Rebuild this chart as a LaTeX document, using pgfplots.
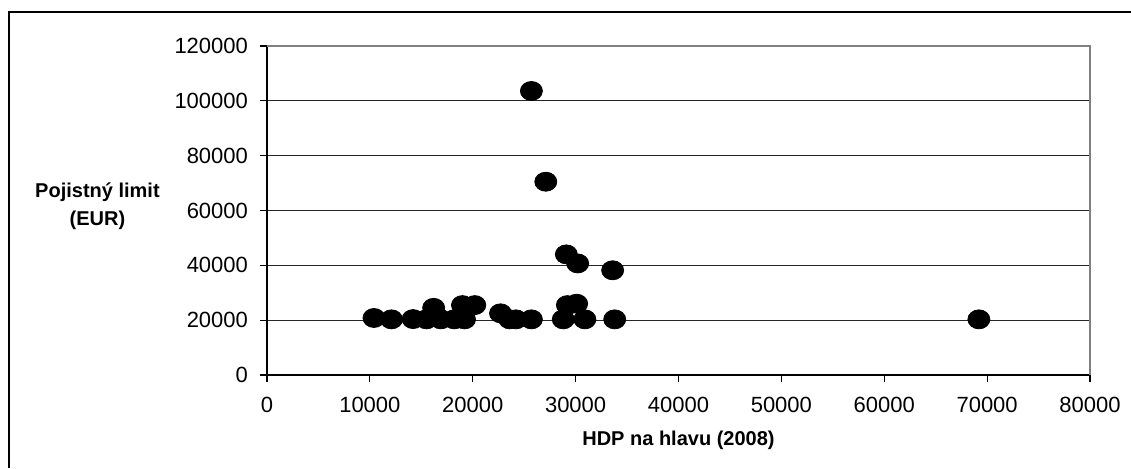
\documentclass[border=0pt]{standalone}
\usepackage{fontspec}
\setmainfont{Liberation Sans}
\usepackage{pgfplots}
\pgfplotsset{compat=1.18}

\begin{document}
\begin{tikzpicture}
% page area and the outer chart frame (top and left edges only)
\useasboundingbox (-133.5pt,-46.5pt) rectangle (432pt,187.5pt);
\draw[black, line width=0.8pt] (-129pt,-46.5pt) -- (-129pt,181.5pt) -- (432pt,181.5pt);
\begin{axis}[
    at={(0,0)}, anchor=south west,
    scale only axis,
    width=411.5pt,
    height=164.5pt,
    xmin=0, xmax=80000,
    ymin=0, ymax=120000,
    xtick={0,10000,20000,30000,40000,50000,60000,70000,80000},
    xticklabels={0,10000,20000,30000,40000,50000,60000,70000,80000},
    ytick={0,20000,40000,60000,80000,100000,120000},
    yticklabels={0,20000,40000,60000,80000,100000,120000},
    scaled ticks=false,
    tick label style={font=\fontsize{11}{13}\selectfont},
    xticklabel style={yshift=-4pt},
    yticklabel style={xshift=-2.5pt},
    tick align=outside,
    major tick length=3.5pt,
    tick style={black, line width=0.6pt},
    axis x line*=bottom,
    axis y line*=left,
    axis line style={-, black, line width=0.7pt},
    ymajorgrids,
    grid style={black!85, line width=0.6pt},
    xlabel={\textbf{HDP na hlavu (2008)}},
    ylabel={\textbf{Pojistný limit}\\\textbf{(EUR)}},
    label style={font=\fontsize{10}{14}\selectfont},
    xlabel style={at={(axis description cs:0.5,-0.2)}, anchor=center},
    ylabel style={rotate=-90, align=center, at={(axis description cs:-0.206,0.513)}, anchor=center},
    clip=false,
]
\addplot[only marks, mark=*, mark size=4.75pt,
         mark options={xscale=1.16, fill=black, draw=black}] coordinates {
    (10400,20800)
    (12100,20300)
    (14200,20400)
    (15500,20300)
    (16200,24500)
    (16900,20300)
    (18200,20300)
    (19000,25500)
    (19200,20300)
    (20200,25500)
    (22700,22500)
    (23600,20300)
    (24200,20300)
    (25700,20300)
    (25700,103600)
    (27100,70500)
    (28800,20300)
    (29100,44000)
    (29200,25500)
    (30100,26000)
    (30200,40700)
    (30900,20300)
    (33600,38200)
    (33800,20300)
    (69200,20300)
};
\draw[gray, line width=1pt] (rel axis cs:0,1) -- (rel axis cs:1,1) -- (rel axis cs:1,0);
\end{axis}
\end{tikzpicture}
\end{document}
